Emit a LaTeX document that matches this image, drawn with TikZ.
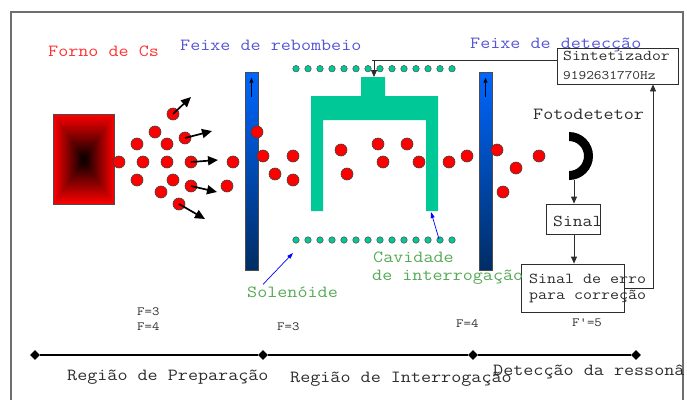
\documentclass[tikz,border=0pt]{standalone}
\usepackage{fontspec}
\setmonofont[FakeStretch=1.15]{Latin Modern Mono}
\usetikzlibrary{arrows.meta,shapes.geometric}
\definecolor{cavgreen}{RGB}{0,200,150}
\definecolor{labred}{RGB}{255,50,50}
\definecolor{labblue}{RGB}{85,85,215}
\definecolor{labgreen}{RGB}{85,170,85}
\definecolor{platetop}{RGB}{0,102,255}
\definecolor{platebot}{RGB}{0,45,100}
\definecolor{framegray}{RGB}{110,110,110}
\definecolor{ink}{RGB}{45,45,45}
\newcommand{\ttsize}[1]{\ttfamily\fontsize{#1}{#1}\selectfont}
\begin{document}
\begin{tikzpicture}[x=1pt,y=-1pt,
  atom/.style={circle,draw=black!75,fill=red,minimum size=12pt,inner sep=0pt,line width=0.6pt},
  coil/.style={circle,draw=black!70,fill=cavgreen,minimum size=6.5pt,inner sep=0pt,line width=0.5pt},
  kick/.style={-{Triangle[length=10pt,width=9pt]},line width=1.7pt},
  lbl/.style={font=\ttsize{17},inner sep=0pt,anchor=west,text=ink},
  flbl/.style={font=\ttsize{12.5},inner sep=0pt,anchor=west,text=ink},
  flow/.style={-{Triangle[length=7pt,width=6pt]},line width=0.8pt,draw=ink},
  pointer/.style={-{Triangle[length=6pt,width=4pt]},line width=0.7pt,draw=blue},
  plate/.style={draw=black!70,top color=platetop,bottom color=platebot,line width=0.6pt,inner sep=0pt,minimum width=13pt,minimum height=198pt},
  boxed/.style={draw=ink,line width=0.8pt,inner sep=0pt},
  tick/.style={diamond,fill=black,minimum size=10pt,inner sep=0pt}
]
\useasboundingbox (0,0) rectangle (687,399);

% outer frame
\draw[framegray,line width=1.3pt] (11,410) -- (11,12) -- (683,12) -- (683,410);

% caesium oven: box-shaped gradient built from four shaded triangles
\fill[red!75!black] (53,114) rectangle (114,204);
\shade[left color=red,middle color=red!80!black,right color=black] (53,114) -- (83.5,159) -- (53,204) -- cycle;
\shade[left color=black,middle color=red!80!black,right color=red] (114,114) -- (83.5,159) -- (114,204) -- cycle;
\shade[top color=red,middle color=red!80!black,bottom color=black] (53,114) -- (83.5,159) -- (114,114) -- cycle;
\shade[top color=black,middle color=red!80!black,bottom color=red] (53,204) -- (83.5,159) -- (114,204) -- cycle;
\node[draw=black!70,line width=0.6pt,minimum width=61pt,minimum height=90pt,inner sep=0pt] (oven) at (83.5,159) {};

% titles
\node[lbl,text=labred] (ovenlbl) at (48,51) {Forno de Cs};
\node[lbl,text=labblue] (repump) at (180,45) {Feixe de rebombeio};
\node[lbl,text=labblue] (detect) at (470,45) {Feixe de detecção};

% microwave cavity
\fill[cavgreen] (311,96) -- (361,96) -- (361,77) -- (385,77) -- (385,96) -- (438,96)
  -- (438,211) -- (426,211) -- (426,120) -- (323,120) -- (323,211) -- (311,211) -- cycle;
\coordinate (cavtop) at (374,77);

% solenoid windings
\foreach \i in {0,...,13} {
  \node[coil] (ct\i) at (296+12*\i,68.7) {};
  \node[coil] (cb\i) at (296+12*\i,240) {};
}

% state-selection plates
\node[plate] (plateA) at (251.5,171) {};
\node[plate] (plateB) at (485.5,171) {};
\draw[-{Triangle[length=5pt,width=4pt]},line width=0.8pt] ([yshift=-25pt]plateA.north) -- ([yshift=-6pt]plateA.north);
\draw[-{Triangle[length=5pt,width=4pt]},line width=0.8pt] ([yshift=-25pt]plateB.north) -- ([yshift=-6pt]plateB.north);

% atoms
\foreach \n/\x/\y in {1/119/162,2/137/144,3/155/132,4/143/162,5/167/144,6/185/138,7/173/114,
  8/167/162,9/191/162,10/137/180,11/173/180,12/161/192,13/191/186,14/179/204,15/233/162,
  16/227/186,17/257/132,18/263/156,19/293/156,20/275/174,21/293/180,22/341/150,23/347/174,
  24/378/144,25/407/144,26/383/162,27/419/162,28/449/162,29/467/156,30/497/150,31/516/168,
  32/539/156,33/503/192}
  \node[atom] (a\n) at (\x,\y) {};

% velocity arrows of atoms leaving the oven
\coordinate (v6) at (212,131);
\coordinate (v7) at (191,97);
\coordinate (v9) at (218,160);
\coordinate (v13) at (217,192);
\coordinate (v14) at (205,219);
\foreach \n in {6,7,9,13,14}
  \draw[kick] (a\n.center) -- (v\n);

% synthesizer
\node[boxed,minimum width=121pt,minimum height=36pt] (synth) at (617.5,66) {};
\node[lbl,font=\ttsize{15}] (synthA) at (563,56) {Sintetizador};
\node[lbl,font=\ttsize{13}] (synthB) at (563,76) {9192631770Hz};
\coordinate (tap) at (374,60);
\draw[line width=0.8pt,draw=ink] ([yshift=6pt]synth.west) -- (372,60);
\draw[flow] (tap) -- (cavtop);

% photodetector
\fill[black] (569,132) arc (-90:90:24) -- (569,171) arc (90:-90:15) -- cycle;
\coordinate (pd) at (574,180);
\node[lbl] (pdlbl) at (533,114) {Fotodetetor};

% signal chain
\node[boxed,minimum width=54pt,minimum height=30pt] (sinal) at (573,219) {};
\node[lbl,font=\ttsize{16.6}] (sinaltxt) at (553,221) {Sinal};
\node[boxed,minimum width=103pt,minimum height=48pt] (errbox) at (572.5,288) {};
\node[lbl,font=\ttsize{15.2}] (errA) at (529,279) {Sinal de erro};
\node[lbl,font=\ttsize{15.2}] (errB) at (529,297) {para correção};
\draw[flow] (pd) -- (pd |- sinal.north);
\draw[flow] ([xshift=1pt]sinal.south) -- ([xshift=1pt]sinal.south |- errbox.north);
\draw[flow] (errbox.east) -| ([xshift=35.5pt]synth.south);

% green labels with pointers
\node[lbl,text=labgreen] (sol) at (247,292) {Solenóide};
\coordinate (solTip) at (293,253);
\draw[pointer] ([xshift=16pt,yshift=2pt]sol.north west) -- (solTip);
\node[lbl,text=labgreen] (cav1) at (373,257) {Cavidade};
\node[lbl,text=labgreen] (cav2) at (372,277) {de interrogação};
\coordinate (cavTail) at (439,239);
\coordinate (cavTip) at (431,212);
\draw[pointer] (cavTail) -- (cavTip);

% hyperfine levels
\node[flbl] (f1) at (137,312) {F=3};
\node[flbl] (f2) at (137,327) {F=4};
\node[flbl] (f3) at (277,327) {F=3};
\node[flbl] (f4) at (456,324) {F=4};
\node[flbl] (f5) at (572,323) {F'=5};

% region axis
\node[tick] (t0) at (35,355) {};
\node[tick] (t1) at (263,355) {};
\node[tick] (t2) at (473,355) {};
\node[tick] (t3) at (636,355) {};
\draw[line width=1.5pt] (t0) -- (t1) -- (t2) -- (t3);
\node[lbl] (r1) at (67,377) {Região de Preparação};
\node[lbl] (r2) at (290,379) {Região de Interrogação};
\begin{scope}
  \clip (0,0) rectangle (683,399);
  \node[lbl] (r3) at (493,372) {Detecção da ressonância};
\end{scope}
\end{tikzpicture}
\end{document}
